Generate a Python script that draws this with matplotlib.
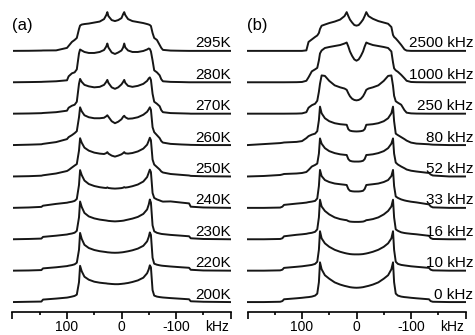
"""
2H NMR line shapes: temperature series (a) and exchange-rate series (b).
"""

from __future__ import annotations

import matplotlib

matplotlib.use("Agg")

import matplotlib.pyplot as plt
from matplotlib.transforms import blended_transform_factory


plt.rcParams["font.family"] = ["Liberation Sans", "DejaVu Sans"]

FIGSIZE = (4.75, 3.35)
DPI = 100
OFFSET = 31.6          # vertical spacing between stacked traces
LINE_COLOR = "#161616"


# ---------------------------------------------------------------- panel (a)
freq_a = [200, 170, 147, 144, 120, 100, 97, 91, 86, 82, 78, 76, 73, 68, 60,
          50, 40, 32, 28, 26, 24, 18, 12, 6, 0, -3, -5, -7, -12, -20, -30,
          -40, -47, -50, -52, -54, -57, -60, -65, -70, -73, -76, -90, -110,
          -124, -127, -150, -200]

labels_a = ["200K", "220K", "230K", "240K", "250K",
            "260K", "270K", "280K", "295K"]

h_200K = [0, 0.3, 0.5, 2.5, 3.5, 4.5, 4.8, 5.5, 6.2, 7.5, 20, 36.5, 31, 25.5,
          22.5, 20.5, 19.5, 19, 18.8, 18.6, 18.5, 18.2, 18, 18, 18.3, 18.5,
          18.6, 18.8, 19.2, 20.2, 21.8, 24.5, 29, 33, 37, 35, 12, 6.5, 5.5, 5,
          4.8, 4.6, 4, 3.3, 2.8, 0.8, 0.3, 0]
h_220K = [0, 0.2, 0.6, 2.3, 3.4, 4.6, 5, 5.6, 6.4, 8, 21, 38, 32, 26, 22.8,
          20.8, 19.6, 19, 18.7, 18.5, 18.4, 18.1, 18, 18.1, 18.4, 18.6, 18.8,
          19, 19.5, 20.5, 22.2, 25, 29.5, 34, 38.5, 36, 13, 7, 6, 5.4, 5.1,
          4.9, 4.2, 3.4, 2.9, 0.9, 0.2, 0]
h_230K = [0, 0.3, 0.7, 2.4, 3.6, 4.8, 5.2, 5.8, 6.6, 8.5, 22, 38, 32.5, 26.5,
          23, 21, 19.8, 19.2, 18.9, 18.7, 18.5, 18.2, 18, 18.2, 18.5, 18.7,
          18.9, 19.2, 19.8, 20.8, 22.5, 25.5, 30, 35, 40, 37, 14, 8, 6.5, 5.8,
          5.4, 5.2, 4.4, 3.6, 3, 1, 0.3, 0]
h_240K = [0, 0.4, 1, 2.2, 4, 5.2, 5.6, 6.2, 7, 9, 23, 38, 33, 27.5, 24, 22,
          20.8, 20.2, 20, 20.6, 20, 19.6, 19.4, 19.6, 19.9, 20.3, 20.9, 20.4,
          20.8, 21.8, 23.5, 26.5, 31, 35.5, 38.5, 36, 15, 10, 8.5, 7.5, 6.8,
          6.3, 6.5, 5.3, 4.5, 1.2, 0.4, 0]
h_250K = [0, 0.3, 0.8, 1.2, 3, 5.5, 6.5, 9, 11, 12.5, 26, 38.5, 34, 29, 26,
          24, 23, 22.6, 23.5, 24.5, 23, 21, 20, 21, 22.3, 23.5, 24.5, 23.3,
          23, 23.6, 25.2, 28, 32, 36, 39, 36.5, 17, 12, 9.5, 7, 5, 4, 2.5,
          1.6, 1, 0.6, 0.2, 0]
h_260K = [0, 0.4, 0.8, 1.2, 3, 6, 8, 10, 12, 14, 28, 38, 34, 30, 28, 27, 27,
          27.5, 29, 30, 28.5, 24, 22, 23.5, 26, 28.5, 29.5, 28, 26.5, 26.8,
          28, 30.5, 33.5, 36, 38, 35.5, 18, 13, 10, 7, 4, 2.5, 1.2, 0.6, 0.3,
          0.2, 0, 0]
h_270K = [0, 0.2, 0.5, 0.7, 1.5, 3, 6, 8, 9, 12, 30, 35, 32, 29, 27.5, 26.5,
          27, 29, 32, 34, 31, 26.5, 25, 26.5, 29.5, 32, 34, 31, 28, 27, 28,
          30, 33, 35.5, 36.5, 34, 20, 12, 10, 7.5, 3.5, 1.5, 0.6, 0.3, 0.1, 0,
          0, 0]
h_280K = [0, 0.2, 0.4, 0.5, 1, 2, 6, 9, 10, 13, 29, 33, 32, 30.5, 29.5, 29.5,
          30.5, 32.5, 36, 39, 35, 30, 28.5, 30, 32, 35, 39, 35, 32, 30.5, 30.5,
          31.5, 33, 34, 33.5, 31, 22, 12, 10, 7, 3, 1, 0.4, 0.2, 0, 0, 0, 0]
h_295K = [0, 0.1, 0.3, 0.4, 0.5, 3, 5, 9, 11, 13, 22, 25.5, 26.5, 27, 27.5,
          28.5, 29.5, 32, 36, 39, 35, 31, 30, 31, 33, 37, 39, 36, 32, 30, 29,
          28, 27, 26.5, 26, 25, 18, 13, 11, 6, 3, 1, 0.3, 0.1, 0, 0, 0, 0]

traces_a = [h_200K, h_220K, h_230K, h_240K, h_250K,
            h_260K, h_270K, h_280K, h_295K]


# ---------------------------------------------------------------- panel (b)
freq_b = [200, 170, 140, 136, 133, 110, 100, 92, 88, 82, 76, 72, 69, 67, 64,
          58, 50, 40, 30, 22, 18, 15, 12, 8, 4, 0, -4, -8, -12, -15, -18, -22,
          -30, -40, -50, -58, -64, -67, -69, -72, -76, -82, -88, -92, -100,
          -110, -133, -136, -140, -170, -200]

labels_b = ["0 kHz", "10 kHz", "16 kHz", "33 kHz", "52 kHz",
            "80 kHz", "250 kHz", "1000 kHz", "2500 kHz"]

h_0kHz = [0, 0, 0.3, 1, 2.8, 3.8, 4.3, 4.8, 5, 5.5, 6.5, 8.5, 20, 40, 33, 27,
          23.5, 19.8, 17.6, 16.3, 15.8, 15.4, 15, 14.7, 14.5, 14.4, 14.5,
          14.7, 15, 15.4, 15.8, 16.3, 17.6, 19.8, 23.5, 27, 33, 40, 20, 8.5,
          6.5, 5.5, 5, 4.8, 4.3, 3.8, 2.8, 1, 0.3, 0, 0]
h_10kHz = [0, 0, 0.3, 1, 2.8, 3.9, 4.4, 5, 5.3, 5.8, 6.8, 9, 21, 39.7, 32.5,
           27.5, 24, 21, 19, 17.8, 17.3, 17, 16.7, 16.5, 16.4, 16.4, 16.4,
           16.5, 16.7, 17, 17.3, 17.8, 19, 21, 24, 27.5, 32.5, 39.7, 21, 9,
           6.8, 5.8, 5.3, 5, 4.4, 3.9, 2.8, 1, 0.3, 0, 0]
h_16kHz = [0, 0, 0.3, 1, 3, 4.5, 5, 5.5, 6, 6.5, 7.5, 10, 22, 39.8, 33, 28.5,
           25, 22, 20.3, 19.5, 19.2, 18.3, 17.8, 17.6, 17.5, 17.5, 17.5, 17.6,
           17.8, 18.3, 19.2, 19.5, 20.3, 22, 25, 28.5, 33, 39.8, 22, 10, 8.5,
           7, 6.3, 6, 5.5, 5, 3.5, 1.2, 0.3, 0, 0]
h_33kHz = [0, 0, 0.3, 1.2, 3, 4.3, 4.8, 5.3, 5.8, 6.3, 7, 9.5, 22, 38.2, 32,
           28, 26, 24.5, 23.8, 23.3, 23, 19, 17.2, 16.7, 16.5, 16.5, 16.5,
           16.7, 17.2, 19, 23, 23.3, 23.8, 24.5, 26, 28, 32, 38.2, 22, 11.5,
           10, 8.5, 7.5, 7, 6.2, 5.5, 3.5, 1.5, 0.5, 0, 0]
h_52kHz = [0, 0.5, 1.5, 2, 2.5, 3, 3.5, 4.5, 6.5, 10, 11.6, 13, 23, 38.3, 33,
           28.5, 25.5, 23.5, 22.3, 21.8, 21.6, 17.5, 15.8, 15.2, 15, 15, 15,
           15.2, 15.8, 17.5, 21.6, 21.8, 22.3, 23.5, 25.5, 28.5, 33, 38.3, 23,
           14, 12, 10, 8.3, 7, 5.8, 5, 3.5, 2, 1, 0, 0]
h_80kHz = [0, 1, 2, 2.3, 2.6, 3.2, 4, 7, 9, 10.5, 11.5, 14, 25, 38.7, 32, 27,
           24, 22, 21, 20.6, 20.4, 16, 14.5, 14, 13.8, 13.7, 13.8, 14, 14.5,
           16, 20.4, 20.6, 21, 22, 24, 27, 32, 38.7, 24, 11.5, 10, 8, 6, 4.5,
           2.5, 1.5, 0.8, 0.6, 0.4, 0, 0]
h_250kHz = [0, 0, 0, 0, 0, 0.1, 0.3, 1.5, 6, 8.5, 10, 13, 22, 30, 38.5, 38,
            33, 28.5, 26.5, 25.3, 24, 20.5, 17.5, 15, 13.8, 13.4, 13.8, 15,
            17.5, 20.5, 24, 25.3, 26.5, 28.5, 33, 38, 38.5, 28, 18, 12.5, 11,
            9, 3.5, 1, 0.3, 0.1, 0, 0, 0, 0, 0]
h_1000kHz = [0, 0, 0, 0, 0, 0.1, 0.3, 1.5, 5, 11, 13, 14.5, 22, 29, 32, 34.5,
             35.5, 36.5, 37.5, 39, 40, 36, 31, 26.5, 23, 21.7, 23, 26.5, 31,
             36, 40, 39, 37.5, 36.5, 35.5, 34.5, 31, 20, 14, 12, 10.5, 7.5, 4,
             1.5, 0.3, 0.1, 0, 0, 0, 0, 0]
h_2500kHz = [0, 0, 0, 0, 0, 0, 0, 0.5, 9, 11.5, 14, 15.5, 18, 22, 25.3, 26.5,
             28, 29.5, 31.5, 35, 39, 35, 31.5, 28.5, 26, 25.4, 26, 28.5, 31.5,
             35, 39, 35, 32.3, 30, 28.5, 27.3, 24, 16, 14, 12.5, 10, 6, 1.5,
             0.3, 0, 0, 0, 0, 0, 0, 0]

traces_b = [h_0kHz, h_10kHz, h_16kHz, h_33kHz, h_52kHz,
            h_80kHz, h_250kHz, h_1000kHz, h_2500kHz]


def style_axis(ax, panel_tag: str) -> None:
    """
    Frequency axis along the bottom only, reversed, with kHz unit label.
    """

    ax.set_xlim(200, -200)
    ax.set_ylim(-10, 303)

    for side in ("left", "right", "top"):
        ax.spines[side].set_visible(False)
    ax.spines["bottom"].set_linewidth(1.2)

    ax.set_yticks([])
    ax.set_xticks([200, 100, 0, -100, -200])
    ax.set_xticklabels(["", "100", "0", "-100", ""])
    ax.set_xticks([150, 50, -50, -150], minor=True)
    ax.tick_params(axis="x", which="major", direction="out",
                   length=4.8, width=1.2, pad=1.2, labelsize=10)
    ax.tick_params(axis="x", which="minor", direction="out",
                   length=2.4, width=1.2)

    blend = blended_transform_factory(ax.transData, ax.transAxes)
    ax.annotate("kHz", xy=(-175, 0), xycoords=blend,
                xytext=(0, -6.0), textcoords="offset points",
                ha="center", va="top", fontsize=10)

    ax.text(200, 278, panel_tag, ha="left", va="center", fontsize=12)


def draw_stack(ax, freq, traces, labels, label_x) -> None:
    """
    Stack traces with a constant offset and put the label above each baseline.
    """

    for k, (values, label) in enumerate(zip(traces, labels)):
        base = OFFSET * k
        ax.plot(freq, [base + v for v in values],
                color=LINE_COLOR, lw=1.4, solid_joinstyle="round")
        ax.text(label_x, base + 3.5, label, ha="right", va="baseline",
                fontsize=11, clip_on=False)


fig = plt.figure(figsize=FIGSIZE, dpi=DPI)

ax_a = fig.add_axes([12.5 / 475, 23 / 335, 218 / 475, 311 / 335])
ax_b = fig.add_axes([247.5 / 475, 23 / 335, 218 / 475, 311 / 335])

draw_stack(ax_a, freq_a, traces_a, labels_a, -200)
draw_stack(ax_b, freq_b, traces_b, labels_b, -214)

style_axis(ax_a, "(a)")
style_axis(ax_b, "(b)")

fig.savefig("out.png", dpi=DPI)
